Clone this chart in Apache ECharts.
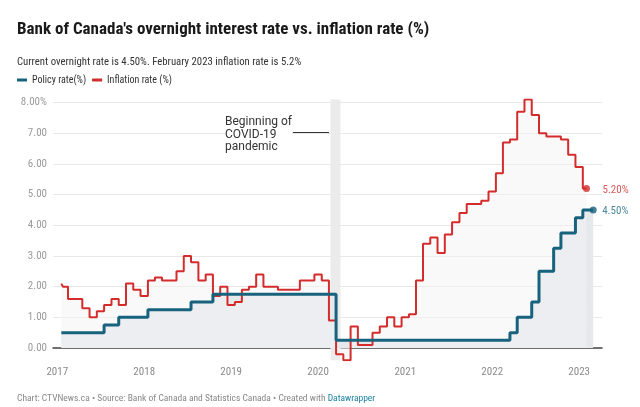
<!DOCTYPE html>
<html>
<head>
<meta charset="utf-8">
<script src="https://cdn.jsdelivr.net/npm/echarts@6/dist/echarts.min.js"></script>
<style>html,body{margin:0;padding:0;background:#fff}#chart{width:640px;height:407px}</style>
</head>
<body>
<div id="chart"></div>
<script>
// ---- data (monthly rows; first row is the first data date) ----
const years = [2017, 2018, 2019, 2020, 2021, 2022, 2023];
const firstRowDate = '2017-01-18';
const inflation = {
  2017: [2.1, 2.0, 1.6, 1.6, 1.3, 1.0, 1.2, 1.4, 1.6, 1.4, 2.1, 1.9],
  2018: [1.7, 2.2, 2.3, 2.2, 2.2, 2.5, 3.0, 2.8, 2.2, 2.4, 1.7, 2.0],
  2019: [1.4, 1.5, 1.9, 2.0, 2.4, 2.0, 2.0, 1.9, 1.9, 1.9, 2.2, 2.2],
  2020: [2.4, 2.2, 0.9, -0.2, -0.4, 0.7, 0.1, 0.1, 0.5, 0.7, 1.0, 0.7],
  2021: [1.0, 1.1, 2.2, 3.4, 3.6, 3.1, 3.7, 4.1, 4.4, 4.7, 4.7, 4.8],
  2022: [5.1, 5.7, 6.7, 6.8, 7.7, 8.1, 7.6, 7.0, 6.9, 6.9, 6.8, 6.3],
  2023: [5.9, 5.2]
};
const policy = {
  2017: [0.5, 0.5, 0.5, 0.5, 0.5, 0.5, 0.5, 0.75, 0.75, 1.0, 1.0, 1.0],
  2018: [1.0, 1.25, 1.25, 1.25, 1.25, 1.25, 1.25, 1.5, 1.5, 1.5, 1.75, 1.75],
  2019: [1.75, 1.75, 1.75, 1.75, 1.75, 1.75, 1.75, 1.75, 1.75, 1.75, 1.75, 1.75],
  2020: [1.75, 1.75, 1.75, 0.25, 0.25, 0.25, 0.25, 0.25, 0.25, 0.25, 0.25, 0.25],
  2021: [0.25, 0.25, 0.25, 0.25, 0.25, 0.25, 0.25, 0.25, 0.25, 0.25, 0.25, 0.25],
  2022: [0.25, 0.25, 0.25, 0.5, 1.0, 1.0, 1.5, 2.5, 2.5, 3.25, 3.75, 3.75],
  2023: [4.25, 4.5, 4.5]
};
const yTicks = [0, 1, 2, 3, 4, 5, 6, 7, 8];
const xTickYears = [2017, 2018, 2019, 2020, 2021, 2022, 2023];
const covidBand = ['2020-02-22', '2020-04-04'];
const xRange = ['2016-12-14', '2023-04-07'];
const yRange = [-0.4, 8.1];

// ---- build series rows ----
const ts = s => new Date(s + 'T00:00:00').getTime();
function rowDate(y, m) {
  if (y === 2017 && m === 0) return firstRowDate;
  return y + '-' + String(m + 1).padStart(2, '0') + '-01';
}
function build(obj) {
  const out = [];
  years.forEach(y => (obj[y] || []).forEach((v, m) => out.push([ts(rowDate(y, m)), v])));
  return out;
}
const infData = build(inflation);
const polData = build(policy);
const infLast = infData[infData.length - 1];
const polLast = polData[polData.length - 1];

const TEAL = '#17627c', RED = '#d42c2c';
const cond = "'Roboto Condensed', Roboto, sans-serif";

const chart = echarts.init(document.getElementById('chart'), null, {renderer: 'canvas'});
chart.setOption({
  animation: false,
  backgroundColor: '#ffffff',
  textStyle: {fontFamily: cond},
  title: [
    {text: "Bank of Canada's overnight interest rate vs. inflation rate (%)", left: 17, top: 21, padding: 0,
     textStyle: {fontFamily: cond, fontSize: 17, fontWeight: 'bold', color: '#1a1a1a', lineHeight: 17}},
    {text: 'Current overnight rate is 4.50%. February 2023 inflation rate is 5.2%', left: 17, top: 57, padding: 0,
     textStyle: {fontFamily: cond, fontSize: 10.75, fontWeight: 'normal', color: '#333', lineHeight: 11}},
    {text: '{a|Chart: CTVNews.ca \u2022 Source: Bank of Canada and Statistics Canada \u2022 Created with }{b|Datawrapper}',
     left: 17, top: 394, padding: 0,
     textStyle: {fontWeight: 'normal', rich: {
       a: {fontFamily: cond, fontSize: 9.5, fontWeight: 'normal', color: '#888'},
       b: {fontFamily: cond, fontSize: 9.5, fontWeight: 'normal', color: '#1d81a2'}}}}
  ],
  legend: {
    left: 17, top: 75, padding: 0, itemWidth: 10, itemHeight: 3, itemGap: 6, icon: 'rect',
    data: ['Policy rate(%)', 'Inflation rate (%)'],
    textStyle: {fontFamily: cond, fontSize: 10, color: '#333'},
    selectedMode: false
  },
  grid: {left: 53, right: 38, top: 99.6, bottom: 46.7, containLabel: false},
  xAxis: {
    type: 'value', min: ts(xRange[0]), max: ts(xRange[1]),
    axisLine: {show: true, onZero: true, lineStyle: {color: '#444', width: 1.5}},
    axisTick: {show: false},
    splitLine: {show: false},
    axisLabel: {
      customValues: xTickYears.map(y => ts(y + '-01-01')),
      formatter: v => String(new Date(v).getFullYear()),
      color: '#8a8a8a', fontFamily: cond, fontSize: 11, margin: 6
    }
  },
  yAxis: {
    type: 'value', min: yRange[0], max: yRange[1],
    axisLine: {show: false},
    axisTick: {show: false, customValues: yTicks},
    splitLine: {show: true, lineStyle: {color: '#e8e8e8', width: 1}},
    axisLabel: {
      customValues: yTicks, align: 'right', margin: 6,
      formatter: v => v.toFixed(2) + (v === yTicks[yTicks.length - 1] ? '%' : ''),
      color: '#9a9a9a', fontFamily: cond, fontSize: 11
    }
  },
  series: [
    {name: 'policy-area', type: 'line', step: 'middle', data: polData, symbol: 'none', z: 1,
     lineStyle: {width: 0}, areaStyle: {color: '#e6e9ec', opacity: 1}, silent: true,
     markArea: {silent: true, itemStyle: {color: '#ebebeb'}, data: [[{xAxis: ts(covidBand[0])}, {xAxis: ts(covidBand[1])}]]}},
    {name: 'inflation-area', type: 'line', step: 'middle', data: infData, symbol: 'none', z: 1,
     lineStyle: {width: 0}, areaStyle: {color: '#f3f4f6', opacity: 0.5}, silent: true},
    {name: 'Inflation rate (%)', type: 'line', step: 'middle', data: infData, symbol: 'none', z: 3,
     itemStyle: {color: RED}, lineStyle: {color: RED, width: 2}},
    {name: 'Policy rate(%)', type: 'line', step: 'middle', data: polData, symbol: 'none', z: 4,
     itemStyle: {color: TEAL}, lineStyle: {color: TEAL, width: 3},
     markLine: {silent: true, symbol: 'none', label: {show: false},
       lineStyle: {color: '#333', width: 1, type: 'solid'},
       data: [[{coord: [ts('2019-09-17'), 7.03]}, {coord: [ts('2020-02-16'), 7.03]}]]}},
    {name: 'inf-end', type: 'scatter', data: [infLast], symbolSize: 7, z: 5, itemStyle: {color: RED},
     label: {show: true, position: 'right', distance: 12.5, offset: [0, 1.5], formatter: p => p.value[1].toFixed(2) + '%',
       color: '#d03030', fontFamily: cond, fontSize: 11}},
    {name: 'pol-end', type: 'scatter', data: [polLast], symbolSize: 7, z: 5, itemStyle: {color: TEAL},
     label: {show: true, position: 'right', distance: 5.5, offset: [0, 1.5], formatter: p => p.value[1].toFixed(2) + '%',
       color: '#1a6a85', fontFamily: cond, fontSize: 11}}
  ],
  graphic: [
    {type: 'text', left: 225, top: 116, z: 10,
     style: {text: 'Beginning of\nCOVID-19\npandemic', font: '12px Roboto, sans-serif', lineHeight: 12.5, fill: '#333',
             backgroundColor: '#ffffff'}}
  ]
});
</script>
</body>
</html>
